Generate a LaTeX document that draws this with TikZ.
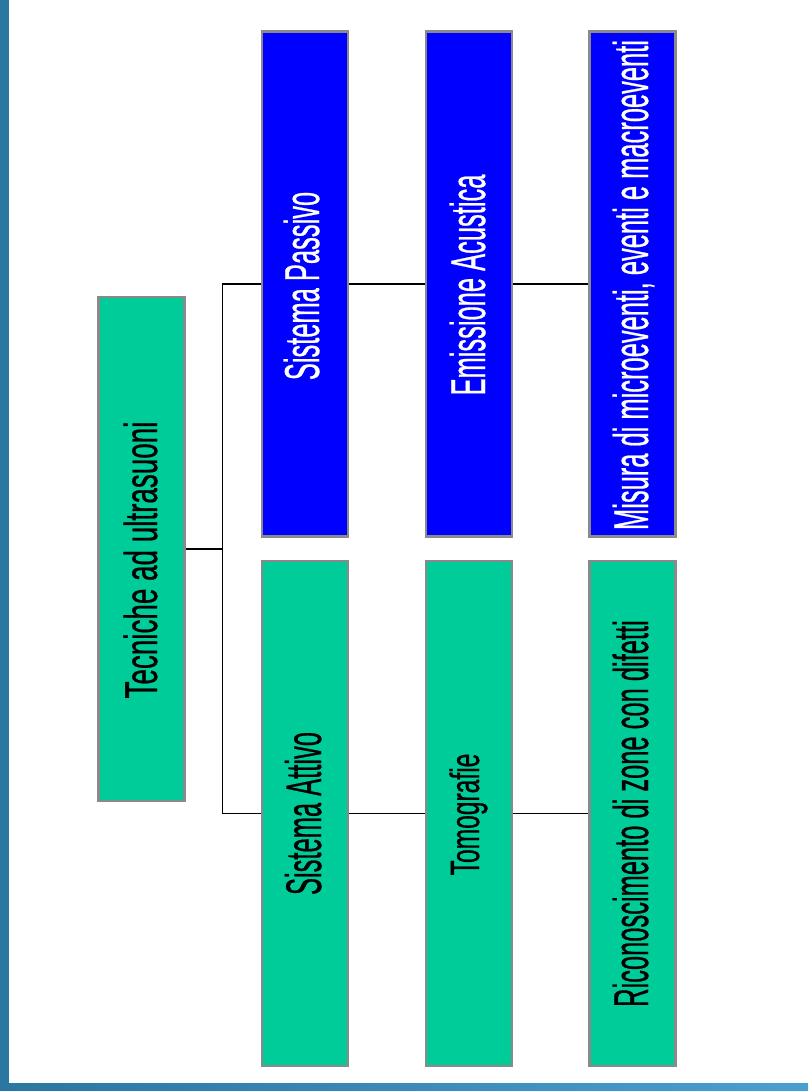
\documentclass[tikz,border=0pt]{standalone}
\usepackage{fontspec}
\setmainfont{Liberation Sans}
\newfontfamily\narfont[FakeBold=0.8]{Liberation Sans}
\usepackage{graphicx}
\definecolor{barblue}{HTML}{2A77A1}
\definecolor{barlight}{HTML}{4A9FD1}
\definecolor{boxgreen}{HTML}{00CC99}
\definecolor{boxblue}{HTML}{0000FF}
\definecolor{framegray}{HTML}{8A8A8A}
\newcommand{\lbl}[3]{\scalebox{#2}[1]{\narfont\fontsize{#1}{#1}\selectfont #3}}
\tikzset{
  gbox/.style={rectangle, draw=framegray, line width=2.5pt, fill=boxgreen, inner sep=0pt},
  bbox/.style={rectangle, draw=framegray, line width=2.5pt, fill=boxblue, inner sep=0pt},
  tall/.style={minimum width=86pt, minimum height=505pt},
  txt/.style={rotate=90, anchor=base, inner sep=0pt},
  conn/.style={draw=black, line width=1.6pt}
}
\begin{document}
\begin{tikzpicture}[x=1pt,y=-1pt]
\fill[white] (0,0) rectangle (808,1091);
\useasboundingbox (0,0) rectangle (808,1091);
% frame bars
\fill[barblue] (0,0) rectangle (9,1091);
\shade[left color=barblue, right color=barlight] (0,1083) rectangle (808,1091);
% boxes
\node[gbox, minimum width=86pt, minimum height=504pt] (root) at (141.5,549) {};
\node[bbox, tall] (passivo) at (305,284) {};
\node[bbox, tall] (emissione) at (469,284) {};
\node[bbox, tall] (misura) at (632.5,284) {};
\node[gbox, tall] (attivo) at (305,813.5) {};
\node[gbox, tall] (tomografie) at (469,813.5) {};
\node[gbox, tall] (ricon) at (632.5,813.5) {};
% texts
\node[txt, text=black] (root-t) at (157,560) {\lbl{46}{0.605}{Tecniche ad ultrasuoni}};
\node[txt, text=white] (passivo-t) at (319,286) {\lbl{49}{0.52}{Sistema Passivo}};
\node[txt, text=white] (emissione-t) at (485,285) {\lbl{49}{0.52}{Emissione Acustica}};
\node[txt, text=white] (misura-t) at (648,285) {\lbl{49}{0.52}{Misura di microeventi, eventi e macroeventi}};
\node[txt, text=black] (attivo-t) at (321,813.5) {\lbl{50}{0.51}{Sistema Attivo}};
\node[txt, text=black] (tomografie-t) at (479,814.5) {\lbl{41}{0.60}{Tomografie}};
\node[txt, text=black] (ricon-t) at (648,813.5) {\lbl{49}{0.52}{Riconoscimento di zone con difetti}};
% connectors
\coordinate (trunk) at (222.5,549);
\draw[conn] (root.east) -- (trunk);
\draw[conn] (passivo.west) -| (trunk);
\draw[conn] (attivo.west) -| (trunk);
\draw[conn] (passivo.east) -- (emissione.west);
\draw[conn] (emissione.east) -- (misura.west);
\draw[conn] (attivo.east) -- (tomografie.west);
\draw[conn] (tomografie.east) -- (ricon.west);
\end{tikzpicture}
\end{document}
